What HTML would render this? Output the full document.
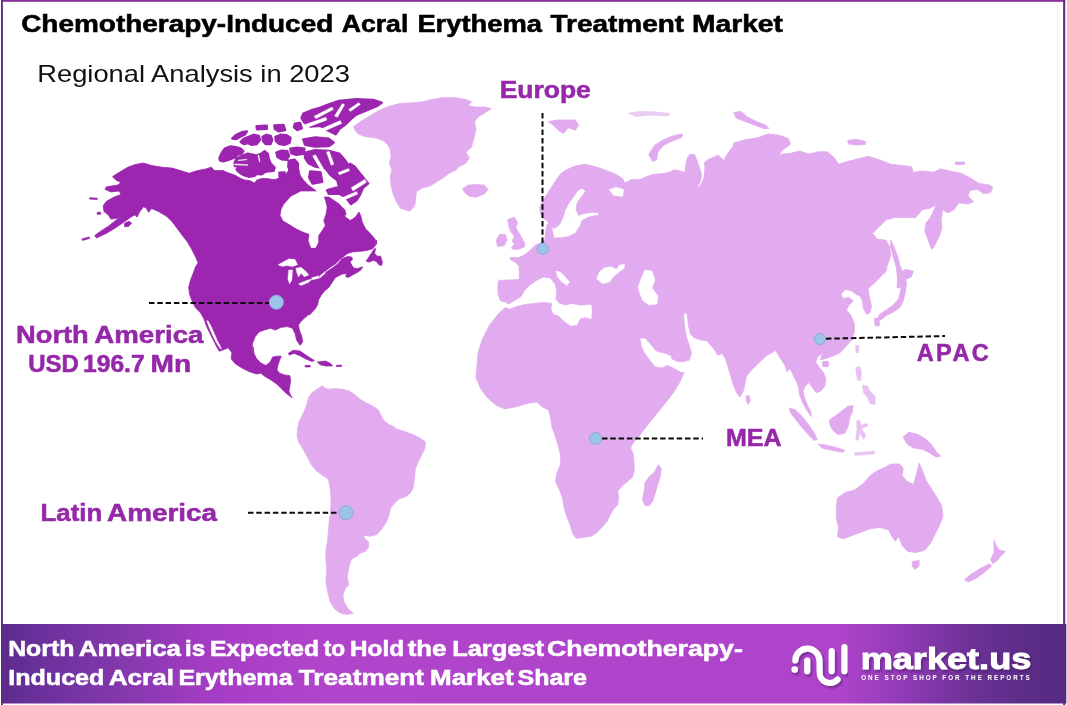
<!DOCTYPE html>
<html lang="en"><head><meta charset="utf-8"><title>Chemotherapy-Induced Acral Erythema Treatment Market</title>
<style>html,body{margin:0;padding:0;background:#fff}body{width:1067px;height:705px;overflow:hidden}svg{display:block}</style>
</head><body>
<svg width="1067" height="705" viewBox="0 0 1067 705" font-family="'Liberation Sans', sans-serif">
<defs>
<linearGradient id="fg" x1="0" y1="0" x2="1" y2="0">
<stop offset="0" stop-color="#5C2B8B"/><stop offset="0.03" stop-color="#68309A"/><stop offset="0.11" stop-color="#8338AC"/><stop offset="0.2" stop-color="#A53DC4"/><stop offset="0.3" stop-color="#B045CB"/>
<stop offset="0.79" stop-color="#AE44CA"/><stop offset="0.85" stop-color="#8F3AB4"/><stop offset="0.91" stop-color="#6C3297"/><stop offset="0.96" stop-color="#5C2D88"/><stop offset="1" stop-color="#552A82"/>
</linearGradient>
<filter id="soft" x="-2%" y="-2%" width="104%" height="104%"><feGaussianBlur stdDeviation="0.55"/></filter>
<filter id="ts" x="-5%" y="-20%" width="110%" height="150%"><feDropShadow dx="1.5" dy="2" stdDeviation="1.2" flood-color="#3b1560" flood-opacity="0.55"/></filter>
</defs>
<rect x="0" y="0" width="1067" height="705" fill="#fff"/>
<rect x="1" y="0" width="1064.2" height="1.8" fill="#8A2D9C"/>
<rect x="1" y="0" width="1.9" height="705" fill="#5E2D80"/>
<rect x="1056.5" y="2" width="2" height="622" fill="#FAF1FB"/>
<rect x="1063.1" y="0" width="2.1" height="705" fill="#5C2F7C"/>
<g id="map" filter="url(#soft)">
<path d="M308.5,397.8 L311.9,392.7 L317.0,389.3 L322.1,385.9 L325.5,388.5 L328.9,389.3 L335.7,388.5 L342.5,389.3 L349.3,391.0 L354.4,394.4 L359.5,398.7 L366.3,402.9 L373.1,406.3 L378.2,409.8 L380.8,414.9 L383.3,420.0 L388.4,424.2 L395.2,427.6 L388.9,425.1 L397.4,429.4 L405.9,431.9 L414.4,435.3 L421.2,438.7 L425.5,442.1 L424.6,448.9 L421.2,455.7 L417.8,462.5 L415.3,469.3 L414.4,477.8 L413.5,486.3 L411.0,492.3 L405.9,496.6 L399.1,499.1 L394.0,503.4 L390.6,508.5 L388.9,515.3 L386.3,522.1 L382.1,528.5 L377.0,534.5 L370.2,536.2 L363.4,535.3 L365.1,538.7 L368.5,542.1 L368.5,547.2 L365.1,551.5 L360.0,553.2 L356.6,556.6 L351.5,559.1 L349.8,564.2 L348.1,571.0 L347.2,577.8 L348.9,584.6 L345.5,588.1 L342.9,594.9 L343.8,601.7 L348.1,608.5 L353.2,613.6 L346.3,614.4 L339.5,612.7 L334.4,608.5 L330.2,601.7 L327.6,591.5 L325.9,581.2 L326.8,571.0 L325.9,560.8 L325.9,550.6 L327.6,540.4 L328.5,530.2 L329.3,520.0 L330.2,515.3 L331.0,505.1 L331.0,496.6 L330.2,488.1 L328.5,479.5 L322.5,475.3 L316.6,471.0 L311.5,465.1 L307.2,456.6 L303.0,448.9 L298.7,442.1 L297.0,435.3 L297.9,426.8 L300.4,420.0 L298.3,423.4 L301.7,416.6 L304.2,411.5 L306.8,404.6Z M353.6,126.6 L362.1,120.6 L370.6,115.5 L379.1,110.4 L389.3,106.2 L399.5,103.6 L411.5,102.8 L421.7,101.9 L431.9,99.4 L442.1,97.7 L455.7,97.7 L465.9,99.4 L471.8,101.9 L467.6,105.3 L474.4,107.0 L484.6,107.0 L491.4,108.7 L484.6,113.0 L477.8,117.2 L474.4,122.3 L476.1,129.1 L474.4,135.9 L472.7,142.7 L471.0,147.8 L465.9,152.1 L469.3,158.1 L465.9,163.2 L459.1,166.6 L455.7,170.0 L448.9,173.4 L442.1,178.5 L435.3,182.7 L430.2,186.1 L423.1,187.6 L416.5,191.5 L415.6,198.0 L415.2,203.8 L413.5,207.0 L409.8,211.3 L400.4,208.4 L396.5,202.0 L393.2,194.5 L391.0,185.3 L390.2,176.8 L391.9,170.0 L389.3,163.2 L391.0,156.3 L390.2,149.5 L387.6,144.4 L382.5,140.2 L374.0,137.6 L365.5,136.8 L358.7,134.2 L355.3,130.8Z M462.5,188.7 L467.6,185.3 L476.1,184.4 L484.6,185.3 L488.0,189.5 L484.6,193.8 L476.1,197.2 L469.3,196.3 L465.0,192.9Z M543.5,218.8 L540.5,214.0 L539.8,207.0 L542.5,201.0 L546.5,195.0 L551.0,188.0 L555.5,181.0 L560.0,174.5 L566.0,170.0 L575.3,165.9 L585.5,164.2 L595.7,166.8 L605.9,170.2 L616.1,174.4 L622.9,178.7 L624.6,183.0 L625.0,182.8 L631.8,179.4 L640.0,179.5 L646.8,176.5 L653.6,174.2 L662.7,173.7 L669.5,172.0 L674.0,169.7 L679.7,170.8 L685.0,172.5 L685.4,167.4 L686.0,162.9 L687.6,157.2 L689.9,154.4 L694.4,154.4 L696.7,159.5 L699.0,166.3 L701.2,173.1 L701.2,178.8 L699.0,184.4 L697.0,186.7 L699.5,187.0 L702.0,183.0 L703.8,178.0 L704.6,173.0 L705.0,166.0 L704.0,163.0 L708.0,159.5 L713.7,157.2 L718.3,155.0 L720.5,157.5 L724.0,160.5 L726.0,156.0 L729.6,151.0 L733.0,146.5 L733.8,143.1 L745.2,139.7 L758.8,137.4 L767.9,134.0 L779.2,135.2 L788.3,138.6 L790.6,144.2 L781.5,151.0 L779.2,154.4 L790.6,153.3 L799.6,151.0 L809.1,154.0 L818.1,151.8 L827.2,151.8 L834.0,157.4 L838.6,164.2 L845.4,162.0 L859.0,158.6 L868.1,156.3 L879.4,159.7 L890.7,164.2 L902.1,165.4 L911.2,166.5 L913.4,172.2 L922.5,171.0 L933.8,172.2 L940.7,168.8 L949.7,171.0 L961.1,173.3 L970.1,177.8 L979.2,183.5 L988.3,184.7 L992.8,186.9 L990.6,192.6 L983.8,193.7 L977.0,189.2 L970.1,190.3 L967.9,196.0 L973.5,201.7 L967.9,203.9 L958.8,202.8 L954.3,209.6 L947.5,213.0 L942.5,209.6 L942.0,215.3 L941.1,219.8 L941.8,228.9 L938.4,238.0 L933.8,247.0 L931.6,249.3 L928.2,240.2 L924.8,231.2 L925.9,223.2 L930.4,217.5 L933.8,210.7 L936.1,205.1 L929.3,208.5 L922.5,209.6 L915.7,217.5 L906.6,217.5 L895.3,217.5 L886.2,219.8 L879.4,226.6 L872.6,233.4 L877.1,239.1 L886.2,240.2 L889.6,247.0 L890.7,256.1 L887.3,265.2 L883.9,274.3 L887.3,267.9 L880.5,277.0 L873.7,283.8 L868.1,288.4 L869.2,296.3 L871.5,305.4 L870.3,312.2 L866.9,314.4 L863.5,308.8 L862.4,300.8 L860.1,296.3 L855.6,294.0 L851.0,290.6 L845.4,289.5 L840.8,294.0 L843.1,298.6 L848.8,297.4 L853.3,300.8 L848.8,305.4 L846.5,309.9 L851.0,315.6 L854.4,323.5 L854.4,332.6 L851.0,340.5 L845.4,347.3 L839.7,353.0 L831.8,356.4 L825.0,358.7 L820.4,359.8 L822.5,353.6 L817.4,357.0 L815.7,362.1 L819.1,367.2 L823.3,372.3 L825.9,379.1 L825.0,385.9 L820.8,391.0 L816.5,392.7 L812.3,387.6 L808.9,382.5 L805.5,385.9 L802.9,391.0 L804.6,397.8 L807.2,404.6 L810.6,411.5 L811.4,416.6 L808.9,413.2 L805.5,408.1 L802.1,401.2 L799.5,394.4 L798.7,387.6 L796.1,380.8 L792.7,374.0 L790.2,368.9 L786.8,371.5 L785.1,365.5 L781.7,360.4 L778.3,355.3 L775.7,350.2 L773.2,351.9 L767.2,355.3 L761.2,360.4 L756.1,365.5 L751.0,370.6 L746.8,375.7 L745.1,382.5 L743.4,391.0 L740.0,397.0 L736.6,392.7 L733.2,384.2 L730.6,375.7 L728.1,367.2 L725.5,358.7 L722.1,353.6 L717.9,355.3 L713.6,348.5 L706.8,340.9 L699.4,339.7 L693.7,337.4 L690.5,334.0 L688.5,326.0 L687.2,314.5 L684.6,312.0 L683.6,316.0 L684.8,328.4 L686.6,337.4 L689.2,345.4 L691.5,353.3 L689.2,360.1 L683.5,361.8 L676.7,361.2 L672.2,359.0 L671.0,355.6 L665.4,353.3 L656.3,351.0 L650.6,344.2 L645.0,338.0 L639.8,338.0 L641.0,345.4 L643.8,352.2 L649.5,360.1 L655.2,366.9 L662.0,368.0 L667.0,365.5 L673.0,368.0 L681.0,372.5 L684.0,372.6 L680.0,381.7 L673.2,393.0 L664.2,404.4 L655.1,415.7 L646.0,427.0 L639.2,436.1 L633.0,443.0 L630.6,448.0 L633.1,453.6 L634.0,462.1 L634.3,470.6 L632.3,477.4 L627.2,481.7 L622.0,486.0 L617.8,491.0 L618.7,497.8 L617.8,504.6 L613.6,509.0 L610.2,514.9 L606.8,521.7 L601.7,527.6 L596.6,532.7 L591.5,536.1 L584.6,537.3 L576.1,538.3 L572.7,533.6 L570.2,525.0 L566.8,516.6 L564.2,508.0 L562.5,497.8 L559.1,489.3 L555.7,481.7 L556.6,474.0 L560.0,465.5 L560.8,457.0 L558.7,447.0 L555.3,436.1 L551.9,427.0 L550.7,418.0 L548.5,410.0 L541.7,406.6 L537.1,402.1 L528.1,403.2 L516.7,406.6 L505.4,408.9 L496.3,405.5 L487.2,397.5 L480.4,388.5 L475.9,377.1 L477.0,365.8 L478.1,352.2 L482.7,338.6 L489.5,325.0 L498.6,313.6 L505.4,307.5 L510.0,309.3 L515.9,306.8 L524.4,304.6 L534.6,303.4 L543.2,302.5 L551.7,303.4 L550.8,309.3 L553.4,314.4 L558.5,316.1 L563.6,321.2 L570.4,326.3 L577.2,325.5 L580.6,318.7 L585.7,317.8 L591.6,319.5 L592.5,311.0 L591.6,304.2 L580.6,305.1 L572.1,303.4 L565.3,305.1 L558.5,302.5 L555.9,299.1 L556.8,290.6 L555.1,283.8 L550.0,277.9 L543.2,277.0 L536.4,280.4 L529.5,285.5 L524.4,290.6 L521.0,296.6 L514.2,300.8 L508.3,304.3 L506.6,302.5 L500.6,300.8 L498.0,294.0 L498.0,282.1 L499.0,280.4 L509.0,280.0 L519.3,279.6 L519.3,266.8 L516.0,262.5 L510.8,260.0 L510.0,257.5 L519.0,257.5 L524.7,254.6 L530.4,250.1 L534.9,245.6 L541.7,242.2 L545.1,238.8 L545.1,237.6 L545.7,230.8 L547.4,224.0 L550.2,222.9 L551.9,228.6 L553.0,234.2 L554.2,238.2 L562.1,237.6 L568.9,236.5 L575.7,233.1 L579.1,227.4 L580.4,225.5 L582.0,220.4 L588.9,217.0 L599.1,215.0 L598.0,212.5 L592.3,212.3 L585.5,213.2 L578.7,215.3 L576.1,210.2 L577.0,203.4 L580.4,198.3 L585.5,191.5 L582.1,188.1 L577.8,190.6 L573.6,196.6 L568.5,203.4 L565.1,210.2 L563.0,217.0 L559.5,224.5 L554.2,228.6 L550.8,226.3 L546.2,219.5Z M507.7,219.5 L514.5,217.2 L517.9,222.9 L515.6,227.4 L519.0,233.1 L522.4,238.8 L524.7,243.3 L524.7,246.7 L519.0,249.0 L513.4,249.5 L511.1,247.8 L514.5,244.4 L512.2,241.0 L514.5,236.5 L511.1,232.0 L508.8,226.3Z M496.3,239.9 L499.7,234.2 L505.4,234.8 L507.1,239.9 L504.3,245.6 L497.5,246.7Z M548.1,121.7 L556.6,120.0 L575.3,120.0 L578.7,125.1 L575.3,130.2 L568.5,127.7 L563.4,133.6 L558.3,130.2 L553.2,125.1Z M652.2,161.3 L648.8,154.4 L654.4,145.4 L663.5,139.7 L674.9,135.2 L682.8,134.0 L681.7,137.4 L672.6,140.8 L663.5,145.4 L657.8,152.2 L656.7,160.1Z M733.8,112.5 L740.7,111.3 L747.5,117.0 L756.5,121.6 L765.6,125.0 L769.0,128.4 L763.3,128.4 L754.3,125.0 L745.2,121.6 L736.1,118.1Z M847.6,140.4 L856.7,139.3 L865.8,141.6 L865.3,144.5 L856.7,145.0 L848.5,144.0Z M955.4,162.0 L964.5,162.0 L964.5,164.5 L955.4,164.5Z M890.7,240.2 L894.1,247.0 L897.5,256.1 L899.8,265.2 L902.5,272.0 L902.1,279.9 L899.8,287.9 L897.1,287.9 L897.5,278.8 L896.4,267.5 L893.0,256.1 L890.7,247.0Z M877.1,321.3 L879.4,314.4 L886.2,309.9 L893.0,305.4 L898.7,298.6 L901.0,289.5 L899.8,280.4 L903.2,275.9 L906.6,281.6 L905.5,291.8 L903.2,300.8 L899.8,307.6 L893.0,312.2 L886.2,315.6 L881.7,319.4Z M899.8,273.6 L905.5,269.1 L913.4,271.3 L911.2,277.0 L904.4,280.0Z M874.4,318.5 L878.9,317.8 L879.4,325.8 L875.3,326.2Z M822.7,361.4 L828.4,361.4 L828.4,366.6 L822.7,366.6Z M745.9,396.1 L749.0,395.3 L750.2,400.4 L748.5,404.3 L746.3,401.2Z M789.3,408.1 L795.3,409.8 L802.1,416.6 L808.9,425.1 L814.0,432.7 L817.4,439.5 L814.0,440.4 L808.9,435.3 L802.1,427.6 L795.3,419.1 L790.2,412.3Z M829.3,420.0 L834.4,416.6 L841.2,411.5 L848.0,406.3 L853.1,405.5 L852.3,411.5 L849.7,418.3 L848.0,426.8 L844.6,433.6 L837.8,434.4 L832.7,430.2 L830.1,425.1Z M818.2,444.1 L825.9,445.1 L836.1,447.5 L844.6,450.2 L843.2,452.3 L832.7,450.6 L822.5,448.2Z M903.2,436.8 L908.9,432.3 L918.0,434.5 L925.9,439.1 L931.6,444.7 L936.1,451.6 L940.7,456.1 L936.1,457.2 L929.3,452.7 L922.5,449.3 L913.4,448.1 L906.6,443.6Z M658.7,464.7 L661.2,468.9 L660.4,475.7 L657.8,484.2 L655.3,492.7 L652.7,501.2 L649.3,505.5 L645.0,505.5 L642.5,499.5 L644.2,491.0 L645.0,482.5 L649.3,476.6 L654.4,472.3 L657.0,467.2Z M837.4,498.1 L845.4,492.4 L854.4,490.1 L863.5,483.3 L870.3,475.4 L877.1,470.8 L885.1,467.4 L890.7,464.0 L899.8,464.0 L903.2,468.6 L902.1,475.4 L906.6,481.0 L913.4,484.4 L916.8,473.1 L919.1,462.9 L922.5,470.8 L925.9,479.9 L931.6,489.0 L937.3,498.1 L941.8,506.0 L942.9,516.2 L939.5,525.3 L935.0,534.4 L930.4,543.4 L924.8,550.2 L915.7,552.5 L907.8,551.4 L902.1,545.7 L898.7,536.6 L895.3,541.2 L891.9,536.6 L888.5,529.8 L879.4,527.5 L870.3,528.7 L861.3,532.1 L852.2,535.5 L843.1,538.9 L837.4,536.6 L838.6,527.5 L836.3,518.5 L836.3,507.1Z M912.3,561.6 L919.1,560.4 L919.1,566.1 L914.6,569.5 L912.3,566.1Z M994.0,540.0 L996.2,545.7 L999.6,550.2 L1005.3,551.4 L1000.8,555.9 L997.4,560.4 L992.8,563.8 L990.6,559.3 L994.0,552.5Z M989.4,563.8 L991.7,566.1 L983.8,572.9 L975.8,578.6 L967.9,582.0 L964.5,579.7 L971.3,574.1 L980.4,568.4Z" fill="#E2ABEF" stroke="#E2ABEF" stroke-width="0.8" stroke-linejoin="round"/>
<path d="M855.6,345.1 L859.0,345.8 L858.5,353.0 L855.8,352.6Z M855.7,367.2 L859.9,366.4 L861.6,372.3 L860.8,380.8 L857.4,380.0 L856.2,374.0Z M862.5,385.1 L867.6,385.9 L870.1,391.0 L875.2,396.1 L875.2,404.6 L870.1,403.8 L867.6,397.8 L863.3,392.7Z M854.4,452.7 L874.9,451.1 L874.4,454.0 L854.9,455.4Z M856.5,420.8 L859.9,420.0 L860.8,425.1 L867.6,423.4 L867.6,425.9 L861.6,428.5 L865.9,435.3 L863.3,439.5 L859.9,432.7 L858.2,440.4 L855.7,439.5 L856.9,430.2Z" fill="#E9C2F3" stroke="#E9C2F3" stroke-width="0.5" stroke-linejoin="round"/>
<path d="M609.1,189.6 L615.9,187.3 L623.8,189.6 L622.7,196.4 L613.6,195.3Z M596.7,278.7 L599.3,271.9 L604.4,267.7 L611.2,266.8 L616.3,269.4 L619.7,265.1 L624.8,264.3 L624.0,268.5 L618.0,272.8 L612.9,277.0 L609.5,282.1 L602.7,283.8Z M645.0,270.0 L652.0,271.0 L655.0,280.0 L652.0,288.0 L658.0,296.0 L657.0,304.0 L649.0,305.0 L643.0,301.0 L640.0,294.0 L638.0,287.0 L641.0,279.0Z M555.9,271.1 L560.2,271.9 L565.3,277.0 L569.5,282.1 L567.0,285.5 L561.9,282.1 L557.6,277.0Z" fill="#fff" stroke="#fff" stroke-width="0.4" stroke-linejoin="round"/>
<path d="M627,113 L640,111 L655,111.5 L670,113 L668,116.5 L650,115.5 L636,117 Z" fill="#EBCDF4"/>
<path d="M112.5,176.6 L119.3,172.3 L127.8,167.2 L134.6,164.7 L143.2,163.0 L151.7,165.5 L161.9,167.2 L172.1,168.1 L180.6,170.6 L189.1,173.2 L197.6,170.6 L206.1,168.9 L211.2,167.2 L214.6,170.6 L223.1,170.6 L227.9,172.8 L234.8,175.1 L239.8,178.1 L244.8,180.1 L249.7,180.6 L254.7,183.0 L256.7,180.1 L261.6,178.6 L266.6,178.6 L272.6,179.4 L276.1,179.2 L284.6,175.8 L291.5,166.5 L294.9,161.3 L298.3,166.5 L300.0,175.0 L303.4,180.1 L308.5,185.2 L315.3,190.3 L322.1,197.1 L328.9,197.1 L339.1,203.9 L345.9,214.9 L330.0,203.5 L338.5,205.2 L342.7,210.3 L345.3,217.1 L350.4,220.5 L355.5,217.1 L358.9,212.0 L360.6,215.4 L362.3,222.2 L365.7,229.0 L370.8,234.1 L375.0,239.2 L376.7,244.3 L376.3,240.0 L375.5,245.1 L373.0,248.5 L367.8,250.2 L362.7,251.1 L357.6,251.5 L352.5,251.9 L347.4,253.6 L344.0,256.2 L339.8,259.6 L335.5,263.8 L331.3,266.4 L327.0,269.8 L323.0,272.8 L325.0,273.0 L330.0,269.6 L337.2,264.4 L342.3,258.6 L347.4,256.6 L351.7,257.0 L352.5,259.6 L350.0,261.7 L351.7,265.1 L353.4,267.7 L357.0,268.8 L362.7,266.8 L361.0,269.8 L357.6,272.3 L352.5,274.9 L348.3,277.4 L345.7,276.6 L347.0,273.5 L342.3,274.0 L335.5,277.4 L332.1,282.5 L328.7,287.6 L324.5,291.0 L321.1,295.3 L318.5,300.0 L317.5,305.0 L315.0,309.0 L309.5,315.0 L308.7,314.6 L304.4,318.1 L301.0,321.5 L298.4,324.9 L299.3,330.0 L301.8,336.8 L302.7,341.9 L300.1,345.3 L296.7,340.2 L295.0,333.4 L292.5,328.3 L287.4,326.6 L280.6,327.4 L275.5,330.0 L270.4,328.3 L264.4,330.0 L259.3,331.7 L255.1,336.8 L252.5,343.6 L251.7,350.4 L253.2,346.8 L254.0,353.6 L256.6,358.7 L260.8,363.0 L265.9,365.5 L270.2,362.1 L272.7,357.0 L277.0,356.2 L281.2,356.2 L279.5,360.4 L277.8,365.5 L277.0,369.8 L279.5,373.2 L284.6,374.9 L289.8,375.7 L290.6,380.8 L289.8,385.9 L288.9,391.0 L290.6,395.3 L292.3,397.8 L289.8,396.1 L285.5,392.7 L281.2,388.5 L277.0,384.2 L271.0,380.0 L265.1,376.6 L260.8,373.2 L256.6,374.0 L248.9,371.5 L242.1,368.1 L235.3,363.8 L231.1,358.7 L231.9,352.8 L228.2,347.7 L224.1,349.5 L221.0,350.7 L219.3,351.2 L216.8,347.0 L213.4,340.2 L210.0,333.4 L206.6,326.6 L204.0,318.9 L200.6,312.9 L195.5,307.8 L192.1,301.0 L189.6,294.2 L188.7,287.4 L190.4,280.6 L193.0,273.8 L195.5,267.0 L198.1,262.8 L195.5,256.8 L192.1,250.0 L192.5,250.6 L187.4,242.1 L182.3,235.3 L177.2,228.5 L172.1,221.7 L167.0,216.6 L158.5,211.5 L151.7,208.4 L148.6,212.3 L146.2,208.1 L143.5,206.7 L139.4,212.3 L137.2,216.9 L134.6,214.9 L131.2,216.9 L124.4,221.7 L115.9,227.6 L106.6,233.2 L96.4,238.0 L94.7,235.6 L100.3,231.5 L108.8,225.9 L115.9,220.3 L121.9,216.2 L117.6,218.3 L110.8,219.1 L108.3,214.9 L104.0,211.5 L103.2,205.5 L106.6,201.2 L114.2,197.0 L121.0,194.4 L119.3,191.0 L110.8,191.9 L104.9,189.3 L106.6,186.8 L117.6,185.1 L121.0,182.5 L115.9,180.0Z M366.1,261.3 L369.5,256.2 L373.8,249.4 L375.5,248.5 L374.6,253.6 L377.2,256.2 L380.6,256.2 L382.3,262.1 L381.5,265.5 L378.9,264.7 L376.3,261.3 L372.9,260.4 L369.5,262.1Z M288.1,353.6 L293.2,350.2 L300.0,351.1 L305.1,354.5 L310.2,357.9 L314.4,360.4 L311.9,361.4 L305.9,359.1 L300.0,355.7 L294.0,353.3 L289.8,355.0Z M317.3,362.1 L325.5,361.1 L330.6,363.5 L332.6,365.9 L325.5,365.9 L320.4,364.8Z M305.1,365.5 L310.2,365.5 L310.2,366.9 L305.1,366.9Z M336.5,365.2 L341.6,365.2 L341.6,366.5 L336.5,366.5Z M89.6,197.8 L97.2,198.2 L97.2,199.5 L89.6,199.0Z M97.2,212.3 L100.6,212.3 L100.6,214.2 L97.2,214.2Z M124.4,223.4 L128.7,221.3 L131.6,223.0 L128.7,226.4 L124.8,226.8Z M81.9,239.0 L89.1,237.0 L89.7,238.3 L82.6,240.4Z" fill="#9C25AF" stroke="#9C25AF" stroke-width="0.8" stroke-linejoin="round"/>
<path d="M381.6,102.7 L373.1,100.1 L356.1,99.3 L339.1,101.0 L328.9,104.4 L320.4,107.8 L311.9,110.3 L303.4,113.7 L301.7,118.0 L304.2,122.2 L310.2,126.5 L320.4,125.6 L325.5,129.0 L330.6,131.6 L335.7,134.1 L339.1,129.0 L345.9,123.9 L351.0,118.8 L356.1,114.6 L366.3,110.3 L376.5,106.1Z M294.9,123.9 L300.0,123.1 L301.7,128.2 L297.4,129.9 L294.0,127.3Z M303.4,139.6 L315.3,137.5 L328.9,138.9 L333.5,142.6 L328.9,146.0 L315.3,146.4 L305.1,144.7Z M219.5,158.2 L221.9,152.8 L224.9,148.8 L229.9,146.6 L235.8,147.3 L240.8,148.8 L243.3,151.3 L241.3,153.8 L237.3,154.8 L234.8,157.3 L230.9,158.7 L226.9,160.2 L222.9,161.2 L220.0,160.2Z M234.8,162.7 L236.8,158.7 L242.8,155.8 L247.8,153.8 L252.7,154.8 L256.7,155.8 L261.6,153.8 L264.6,151.3 L267.6,153.8 L268.6,158.7 L270.6,163.7 L274.5,167.7 L273.6,170.7 L268.6,171.1 L264.6,172.1 L261.6,174.1 L256.7,173.6 L254.7,175.6 L248.7,176.6 L243.8,175.1 L239.8,172.6 L236.8,169.7 L237.8,166.7 L234.8,165.7Z M232.4,138.4 L236.3,134.9 L241.8,132.4 L246.8,131.5 L244.8,134.4 L240.8,136.4 L236.3,138.9Z M240.8,141.9 L243.8,138.9 L248.7,136.9 L253.7,134.9 L258.7,135.9 L259.7,139.9 L256.7,143.9 L251.7,144.8 L247.8,142.9 L243.8,143.9Z M262.6,136.9 L266.6,134.9 L270.6,135.9 L272.1,139.9 L270.6,143.9 L265.6,143.9 L263.1,140.9Z M275.5,136.9 L280.5,134.9 L286.5,135.4 L290.4,137.9 L289.4,142.9 L284.5,144.8 L279.5,143.9 L276.0,140.9Z M256.7,126.2 L266.6,125.8 L266.8,128.8 L257.1,129.2Z M274.5,125.5 L283.5,125.0 L285.0,130.0 L278.5,131.2 L275.0,129.0Z M276.5,152.8 L281.5,150.8 L287.4,151.3 L288.9,155.8 L286.5,159.7 L281.5,159.2 L277.5,156.8Z M290.4,148.8 L297.4,147.8 L304.3,148.8 L303.3,153.8 L296.4,154.8 L291.4,153.3Z M288.9,160.7 L294.4,159.7 L297.9,163.7 L297.4,169.7 L294.4,172.6 L290.4,171.6 L288.4,166.7Z M279.5,172.8 L284.5,172.6 L284.7,176.4 L279.7,176.6Z M305.1,152.8 L315.3,150.3 L328.9,151.1 L339.1,153.7 L345.9,161.3 L354.4,166.5 L361.2,175.0 L368.0,183.5 L362.9,187.7 L359.5,195.4 L356.1,200.5 L351.0,203.9 L345.9,197.1 L339.1,193.7 L328.9,193.7 L327.2,190.3 L339.1,186.9 L337.4,180.1 L330.6,175.0 L325.5,168.2 L315.3,166.5 L308.5,163.1 L305.1,157.9Z M324.6,203.9 L332.3,202.2 L339.1,205.6 L344.2,210.7 L345.0,214.1 L337.4,214.1 L328.9,212.4 L325.1,208.1Z M310.2,171.6 L320.4,172.4 L322.1,181.8 L312.7,183.5 L309.3,177.5Z M305.1,190.3 L314.4,191.1 L315.3,197.1 L305.9,196.7Z" fill="#9C25AF" stroke="#9C25AF" stroke-width="2.6" stroke-linejoin="round"/>
<path d="M234.4,163.9 L247.8,164.5 L247.8,165.4 L234.4,165.0Z M238.0,159.9 L246.8,159.2 L246.8,159.9 L238.2,160.7Z M257.9,155.3 L258.9,155.0 L260.2,161.7 L259.2,161.9Z M314.0,116.2 L332.0,107.1 L333.4,109.6 L315.9,118.7Z M305.6,124.2 L325.8,117.2 L327.0,120.1 L307.2,127.5Z M322.1,128.4 L340.2,120.5 L341.9,123.4 L324.1,131.2Z M334.4,116.0 L342.3,103.6 L344.7,104.8 L337.5,117.2Z M348.5,109.6 L358.8,102.4 L360.4,104.4 L350.5,111.6Z M312.6,156.0 L315.5,154.7 L324.1,169.4 L321.2,171.0Z M326.4,151.9 L329.3,151.2 L334.0,164.2 L331.1,165.3Z M351.1,187.7 L364.9,179.3 L366.6,182.2 L353.0,191.0Z M342.3,197.6 L356.7,191.4 L357.9,194.1 L343.7,200.3Z M338.1,172.5 L348.5,168.4 L349.7,170.8 L339.4,174.9Z M342.3,151.9 L344.3,151.0 L350.5,162.2 L348.5,163.2Z" fill="#fff" stroke="#fff" stroke-width="0.3" stroke-linejoin="round"/>
<path d="M206.6,320.6 L208.3,321.1 L211.7,327.4 L214.6,334.2 L217.6,341.0 L220.7,347.0 L221.5,349.5 L219.3,347.3 L215.9,341.9 L212.5,335.1 L209.5,328.3Z M284.0,204.4 L290.8,196.7 L301.0,191.6 L321.5,191.6 L324.9,200.1 L326.6,206.9 L325.7,213.7 L323.2,220.5 L324.9,225.6 L321.5,230.7 L318.1,235.8 L318.1,242.6 L315.5,247.7 L311.2,247.7 L308.7,240.9 L309.5,234.1 L302.7,231.6 L295.9,228.2 L289.1,223.9 L283.2,220.5 L280.6,215.4 L281.5,209.5Z M278.1,264.8 L289.1,258.8 L295.1,259.6 L297.6,264.8 L292.5,266.5 L286.6,265.6 L282.3,266.5Z M288.8,269.9 L292.5,269.9 L291.9,280.1 L289.5,283.8 L287.8,278.4Z M295.9,268.2 L301.0,267.3 L306.1,271.6 L308.7,275.0 L304.4,276.7 L301.0,273.3 L298.5,277.0 L296.8,272.4Z M298.5,283.8 L307.8,280.1 L312.6,279.0 L308.2,282.6 L301.0,285.5Z M311.6,277.7 L318.9,275.8 L318.4,278.4 L312.3,279.7Z M324.5,272.2 L320.5,275.2 L319.0,277.8 L320.0,278.2 L322.0,276.0 L325.5,273.2Z" fill="#fff" stroke="#fff" stroke-width="0.4" stroke-linejoin="round"/>
</g>
<line x1="542.5" y1="113" x2="542.5" y2="243" stroke="#0a0a0a" stroke-width="2" stroke-dasharray="5.5 2.8"/>
<line x1="149" y1="303" x2="269" y2="303" stroke="#0a0a0a" stroke-width="2" stroke-dasharray="5.5 2.8"/>
<line x1="248" y1="512.7" x2="339" y2="512.7" stroke="#0a0a0a" stroke-width="2" stroke-dasharray="5.5 2.8"/>
<line x1="602" y1="438.6" x2="703" y2="438.6" stroke="#0a0a0a" stroke-width="2" stroke-dasharray="5.5 2.8"/>
<line x1="826" y1="338.7" x2="945" y2="336" stroke="#0a0a0a" stroke-width="2" stroke-dasharray="5.5 2.8"/>
<circle cx="542.8" cy="249" r="5.6" fill="#9CC4EA" stroke="#8CA9DD" stroke-width="1"/>
<circle cx="276.4" cy="302.3" r="7" fill="#9CC4EA" stroke="#8CA9DD" stroke-width="1"/>
<circle cx="346" cy="512.8" r="7" fill="#9CC4EA" stroke="#8CA9DD" stroke-width="1"/>
<circle cx="595.4" cy="438.4" r="6" fill="#9CC4EA" stroke="#8CA9DD" stroke-width="1"/>
<circle cx="820" cy="339" r="5.6" fill="#9CC4EA" stroke="#8CA9DD" stroke-width="1"/>
<text x="21.2" y="32" font-size="23.5" font-weight="bold" fill="#000" textLength="312.1" lengthAdjust="spacingAndGlyphs" stroke="#000" stroke-width="0.55">Chemotherapy-Induced</text>
<text x="341.7" y="32" font-size="23.5" font-weight="bold" fill="#000" textLength="66.6" lengthAdjust="spacingAndGlyphs" stroke="#000" stroke-width="0.55">Acral</text>
<text x="417.4" y="32" font-size="23.5" font-weight="bold" fill="#000" textLength="124.6" lengthAdjust="spacingAndGlyphs" stroke="#000" stroke-width="0.55">Erythema</text>
<text x="550.5" y="32" font-size="23.5" font-weight="bold" fill="#000" textLength="133.6" lengthAdjust="spacingAndGlyphs" stroke="#000" stroke-width="0.55">Treatment</text>
<text x="691.9" y="32" font-size="23.5" font-weight="bold" fill="#000" textLength="91.1" lengthAdjust="spacingAndGlyphs" stroke="#000" stroke-width="0.55">Market</text>
<text x="37.3" y="81.8" font-size="24" font-weight="normal" fill="#111" textLength="312.6" lengthAdjust="spacingAndGlyphs">Regional Analysis in 2023</text>
<text x="499.7" y="97.5" font-size="23.5" font-weight="bold" fill="#9528A8" textLength="91.1" lengthAdjust="spacingAndGlyphs" stroke="#9528A8" stroke-width="0.55">Europe</text>
<text x="16.1" y="343" font-size="24" font-weight="bold" fill="#9528A8" textLength="72.6" lengthAdjust="spacingAndGlyphs" stroke="#9528A8" stroke-width="0.55">North</text>
<text x="94.3" y="343" font-size="24" font-weight="bold" fill="#9528A8" textLength="109.1" lengthAdjust="spacingAndGlyphs" stroke="#9528A8" stroke-width="0.55">America</text>
<text x="28.2" y="372.2" font-size="24" font-weight="bold" fill="#9528A8" textLength="50.6" lengthAdjust="spacingAndGlyphs" stroke="#9528A8" stroke-width="0.55">USD</text>
<text x="83.0" y="372.2" font-size="24" font-weight="bold" fill="#9528A8" textLength="61.6" lengthAdjust="spacingAndGlyphs" stroke="#9528A8" stroke-width="0.55">196.7</text>
<text x="150.5" y="372.2" font-size="24" font-weight="bold" fill="#9528A8" textLength="40.6" lengthAdjust="spacingAndGlyphs" stroke="#9528A8" stroke-width="0.55">Mn</text>
<text x="40.6" y="521.3" font-size="24" font-weight="bold" fill="#9528A8" textLength="61.6" lengthAdjust="spacingAndGlyphs" stroke="#9528A8" stroke-width="0.55">Latin</text>
<text x="107.1" y="521.3" font-size="24" font-weight="bold" fill="#9528A8" textLength="109.9" lengthAdjust="spacingAndGlyphs" stroke="#9528A8" stroke-width="0.55">America</text>
<text x="725.9" y="446.3" font-size="23.5" font-weight="bold" fill="#9528A8" textLength="55.6" lengthAdjust="spacingAndGlyphs" stroke="#9528A8" stroke-width="0.55">MEA</text>
<text x="916.7" y="361" font-size="23.5" font-weight="bold" fill="#9528A8" textLength="72.1" lengthAdjust="spacing" stroke="#9528A8" stroke-width="0.55">APAC</text>
<rect x="1.3" y="624" width="1065" height="79.5" fill="url(#fg)"/>
<text x="8.2" y="656.3" font-size="21.8" font-weight="bold" fill="#fff" textLength="66.2" lengthAdjust="spacingAndGlyphs" stroke="#fff" stroke-width="0.55">North</text>
<text x="78.8" y="656.3" font-size="21.8" font-weight="bold" fill="#fff" textLength="102.2" lengthAdjust="spacingAndGlyphs" stroke="#fff" stroke-width="0.55">America</text>
<text x="185.1" y="656.3" font-size="21.8" font-weight="bold" fill="#fff" textLength="20.2" lengthAdjust="spacingAndGlyphs" stroke="#fff" stroke-width="0.55">is</text>
<text x="210.0" y="656.3" font-size="21.8" font-weight="bold" fill="#fff" textLength="108.9" lengthAdjust="spacingAndGlyphs" stroke="#fff" stroke-width="0.55">Expected</text>
<text x="323.8" y="656.3" font-size="21.8" font-weight="bold" fill="#fff" textLength="21.4" lengthAdjust="spacingAndGlyphs" stroke="#fff" stroke-width="0.55">to</text>
<text x="350.1" y="656.3" font-size="21.8" font-weight="bold" fill="#fff" textLength="53.9" lengthAdjust="spacingAndGlyphs" stroke="#fff" stroke-width="0.55">Hold</text>
<text x="407.7" y="656.3" font-size="21.8" font-weight="bold" fill="#fff" textLength="38.8" lengthAdjust="spacingAndGlyphs" stroke="#fff" stroke-width="0.55">the</text>
<text x="452.2" y="656.3" font-size="21.8" font-weight="bold" fill="#fff" textLength="91.8" lengthAdjust="spacingAndGlyphs" stroke="#fff" stroke-width="0.55">Largest</text>
<text x="547.1" y="656.3" font-size="21.8" font-weight="bold" fill="#fff" textLength="195.7" lengthAdjust="spacingAndGlyphs" stroke="#fff" stroke-width="0.55">Chemotherapy-</text>
<text x="8.2" y="684.5" font-size="21.8" font-weight="bold" fill="#fff" textLength="96.2" lengthAdjust="spacingAndGlyphs" stroke="#fff" stroke-width="0.55">Induced</text>
<text x="108.8" y="684.5" font-size="21.8" font-weight="bold" fill="#fff" textLength="65.2" lengthAdjust="spacingAndGlyphs" stroke="#fff" stroke-width="0.55">Acral</text>
<text x="178.4" y="684.5" font-size="21.8" font-weight="bold" fill="#fff" textLength="114.2" lengthAdjust="spacingAndGlyphs" stroke="#fff" stroke-width="0.55">Erythema</text>
<text x="298.8" y="684.5" font-size="21.8" font-weight="bold" fill="#fff" textLength="125.2" lengthAdjust="spacingAndGlyphs" stroke="#fff" stroke-width="0.55">Treatment</text>
<text x="430.0" y="684.5" font-size="21.8" font-weight="bold" fill="#fff" textLength="83.7" lengthAdjust="spacingAndGlyphs" stroke="#fff" stroke-width="0.55">Market</text>
<text x="517.5" y="684.5" font-size="21.8" font-weight="bold" fill="#fff" textLength="69.5" lengthAdjust="spacingAndGlyphs" stroke="#fff" stroke-width="0.55">Share</text>
<g filter="url(#ts)" fill="none" stroke="#fff" stroke-width="6.2" stroke-linecap="round" stroke-linejoin="round">
<path d="M795.3,660.5 A12.1,12.1 0 0 1 819.5,661 L819.7,672 A10.3,10.3 0 0 0 837.6,679.6"/>
<path d="M807.2,660.6 L807.2,671.2"/><path d="M831.7,651 L831.7,671.2"/><path d="M844.4,647 L844.4,671.2"/>
<circle cx="794.7" cy="669.6" r="3.3" fill="#fff" stroke="none"/>
</g>
<g filter="url(#ts)">
<text x="860.7" y="668.8" font-size="30" font-weight="bold" fill="#fff" textLength="170.6" lengthAdjust="spacingAndGlyphs" stroke="#fff" stroke-width="0.9">market.us</text>
</g>
<text x="861.2" y="679.6" font-size="6.3" font-weight="bold" fill="#fff" textLength="168.6" lengthAdjust="spacing" stroke="none">ONE STOP SHOP FOR THE REPORTS</text>
</svg>
</body></html>
